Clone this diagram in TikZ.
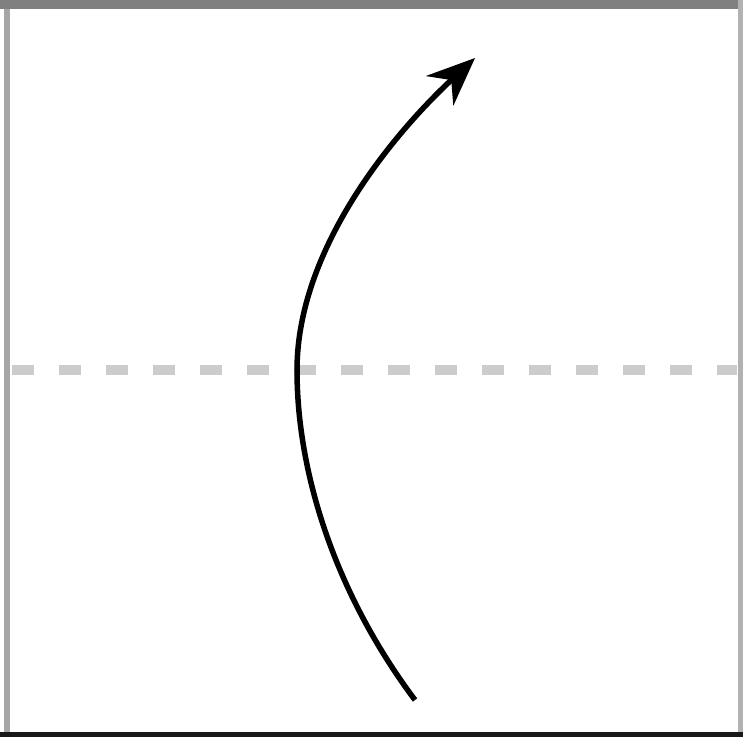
\documentclass[tikz,border=0pt]{standalone}
\usetikzlibrary{arrows.meta}

\tikzset{
  frameside/.style={line width=0.05cm, draw=gray!70},
  axisline/.style={line width=0.1cm, draw=gray!40, dash pattern=on 0.22cm off 0.25cm},
  bentarrow/.style={line width=0.055cm, -{Stealth[length=0.48cm, width=0.4cm]}}
}

\begin{document}
\begin{tikzpicture}[x=0.01cm, y=-0.01cm]

  % picture area, in pixels of the reference
  \useasboundingbox (0,0) rectangle (743,736);

  % frame round the picture
  \draw[frameside] (7,736) -- (7,0);
  \draw[frameside, draw=gray, line width=0.09cm] (0,4) -- (743,4);
  \draw[frameside, draw=gray!60] (740,0) -- (740,736);
  \draw[frameside, draw=black!90] (0,734) -- (743,734);

  % dashed horizontal line
  \coordinate (axis west) at (12,370);
  \coordinate (axis east) at (737,370);
  \draw[axisline] (axis west) -- (axis east);

  % curved arrow, bending left through the dashed line
  \coordinate (start) at (415,700);
  \coordinate (turn) at (297,370);
  \coordinate (tip) at (475,58);
  \draw[bentarrow] (start) .. controls (340,600) and (297,480) .. (turn)
    .. controls (297,250) and (392,135) .. (tip);

\end{tikzpicture}
\end{document}
